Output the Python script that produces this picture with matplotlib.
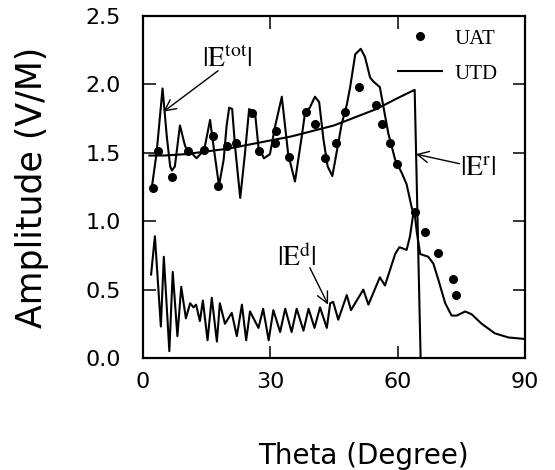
import numpy as np
import matplotlib
matplotlib.use('Agg')
import matplotlib.pyplot as plt

plt.rcParams['mathtext.fontset'] = 'stix'

# UAT (dots)
uat_theta = [2.4, 3.6, 6.8, 10.7, 14.4, 16.4, 17.7, 19.9, 21.8, 25.6, 27.3, 31.0, 31.3,
             34.3, 38.3, 40.4, 42.9, 45.4, 47.6, 51.0, 54.9, 56.4, 58.1, 59.9,
             64.1, 66.4, 69.4, 73.1, 73.7]
uat_amp = [1.24, 1.51, 1.32, 1.51, 1.52, 1.62, 1.26, 1.55, 1.57, 1.79, 1.51, 1.57, 1.66,
           1.47, 1.80, 1.71, 1.46, 1.57, 1.80, 1.98, 1.85, 1.71, 1.57, 1.42,
           1.07, 0.92, 0.77, 0.58, 0.46]

# UTD total field |E^tot|
tot_theta = [2.0, 3.2, 4.6, 5.6, 6.4, 6.8, 7.5, 8.7, 9.9, 10.7, 11.1, 12.6, 14.4, 15.8,
             16.6, 17.9, 19.0, 19.7, 20.3, 21.0, 21.7, 22.9, 24.0, 25.0, 26.4, 27.2,
             28.5, 29.9, 31.1, 32.7, 34.2, 35.8, 37.4, 38.2, 39.3, 40.5, 41.5, 42.5,
             43.5, 44.6, 45.6, 46.8, 48.0, 48.8, 50.0, 51.3, 52.3, 53.5, 54.3, 55.8,
             56.5, 57.8, 59.4, 61.0, 62.1, 63.3, 64.1, 64.5, 65.3, 67.2, 68.4, 69.6,
             71.2, 72.7, 73.9, 75.9, 77.4, 79.8, 82.9, 86.1, 89.6]
tot_amp = [1.23, 1.50, 1.97, 1.62, 1.40, 1.37, 1.40, 1.70, 1.55, 1.51, 1.51, 1.46, 1.52, 1.74,
           1.55, 1.26, 1.45, 1.70, 1.83, 1.82, 1.54, 1.17, 1.49, 1.82, 1.79, 1.54,
           1.46, 1.49, 1.69, 1.91, 1.49, 1.29, 1.62, 1.80, 1.83, 1.91, 1.87, 1.60,
           1.40, 1.33, 1.50, 1.71, 1.85, 1.98, 2.22, 2.26, 2.20, 2.05, 2.02, 1.98,
           1.86, 1.64, 1.45, 1.35, 1.27, 1.10, 1.03, 0.92, 0.76, 0.74, 0.69, 0.57,
           0.40, 0.31, 0.31, 0.34, 0.32, 0.25, 0.18, 0.15, 0.14]

# reflected field |E^r|
ref_theta = [1.5, 5, 10, 15, 20, 25, 30, 35, 40, 45, 50, 55, 60, 64.0, 65.4]
ref_amp = [1.48, 1.48, 1.49, 1.51, 1.53, 1.56, 1.59, 1.62, 1.66, 1.70, 1.76, 1.82, 1.90, 1.96, 0.0]

# diffracted field |E^d|
dif_theta = [1.9, 2.8, 4.2, 4.9, 6.2, 7.0, 8.1, 9.0, 10.1, 11.1, 11.9, 12.5, 13.4, 14.1,
             15.2, 16.2, 17.4, 18.1, 19.3, 20.9, 22.1, 23.3, 24.3, 25.2, 27.2, 28.3,
             29.6, 30.7, 32.3, 33.5, 35.0, 36.2, 37.8, 39.0, 40.4, 41.7, 43.3, 44.1,
             44.8, 46.0, 48.0, 49.0, 51.9, 53.1, 55.8, 57.0, 59.4, 60.4, 62.1, 62.9,
             63.7, 64.2]
dif_amp = [0.61, 0.89, 0.23, 0.74, 0.05, 0.63, 0.16, 0.52, 0.29, 0.40, 0.37, 0.39, 0.27, 0.42,
           0.13, 0.44, 0.12, 0.40, 0.25, 0.33, 0.16, 0.39, 0.13, 0.34, 0.22, 0.36,
           0.13, 0.35, 0.19, 0.36, 0.19, 0.36, 0.20, 0.36, 0.22, 0.37, 0.22, 0.40,
           0.41, 0.28, 0.46, 0.35, 0.50, 0.39, 0.59, 0.53, 0.76, 0.81, 0.79, 0.89,
           1.06, 1.07]

fig = plt.figure(figsize=(5.55, 4.7), dpi=100)
ax = fig.add_axes([0.2577, 0.2383, 0.6883, 0.7277])

lw = 1.5
ax.plot(uat_theta, uat_amp, 'o', color='black', ms=5.5, label='UAT')
ax.plot(tot_theta, tot_amp, '-', color='black', lw=lw, label='UTD')
ax.plot(ref_theta, ref_amp, '-', color='black', lw=lw)
ax.plot(dif_theta, dif_amp, '-', color='black', lw=lw)

ax.set_xlim(0, 90)
ax.set_ylim(0, 2.5)
ax.set_xticks([0, 30, 60, 90])
ax.set_yticks([0.0, 0.5, 1.0, 1.5, 2.0, 2.5])
ax.set_yticklabels(['0.0', '0.5', '1.0', '1.5', '2.0', '2.5'])
for s in ax.spines.values():
    s.set_linewidth(1.6)
ax.tick_params(axis='both', which='major', direction='in', length=9, width=1.1,
               top=True, right=True, labelsize=16)
ax.tick_params(axis='y', pad=16)
ax.tick_params(axis='x', pad=10)

ax.set_xlabel('Theta (Degree)', fontsize=20)
ax.set_ylabel('Amplitude (V/M)', fontsize=25)
ax.xaxis.set_label_coords(0.576, -0.245)
ax.yaxis.set_label_coords(-0.245, 0.5)

ann = dict(fontsize=20)
arr = dict(arrowstyle='->', color='black', lw=1.0, shrinkA=0, shrinkB=0,
           mutation_scale=20)
ax.text(13.9, 2.13, r'$|\mathrm{E}^{\mathrm{tot}}|$', **ann)
ax.annotate('', xy=(4.8, 1.80), xytext=(17.7, 2.10), arrowprops=arr)
ax.text(74.7, 1.34, r'$|\mathrm{E}^{\mathrm{r}}|$', **ann)
ax.annotate('', xy=(64.3, 1.49), xytext=(74.6, 1.42), arrowprops=arr)
ax.text(31.6, 0.67, r'$|\mathrm{E}^{\mathrm{d}}|$', **ann)
ax.annotate('', xy=(43.6, 0.39), xytext=(39.3, 0.66), arrowprops=arr)

ax.legend(loc='upper right', bbox_to_anchor=(0.927, 0.962), frameon=False,
          borderaxespad=0, borderpad=0, handlelength=2.1, handletextpad=0.6,
          labelspacing=0.75, prop={'family': 'Liberation Serif', 'size': 15})

fig.savefig('out.png', dpi=100)
